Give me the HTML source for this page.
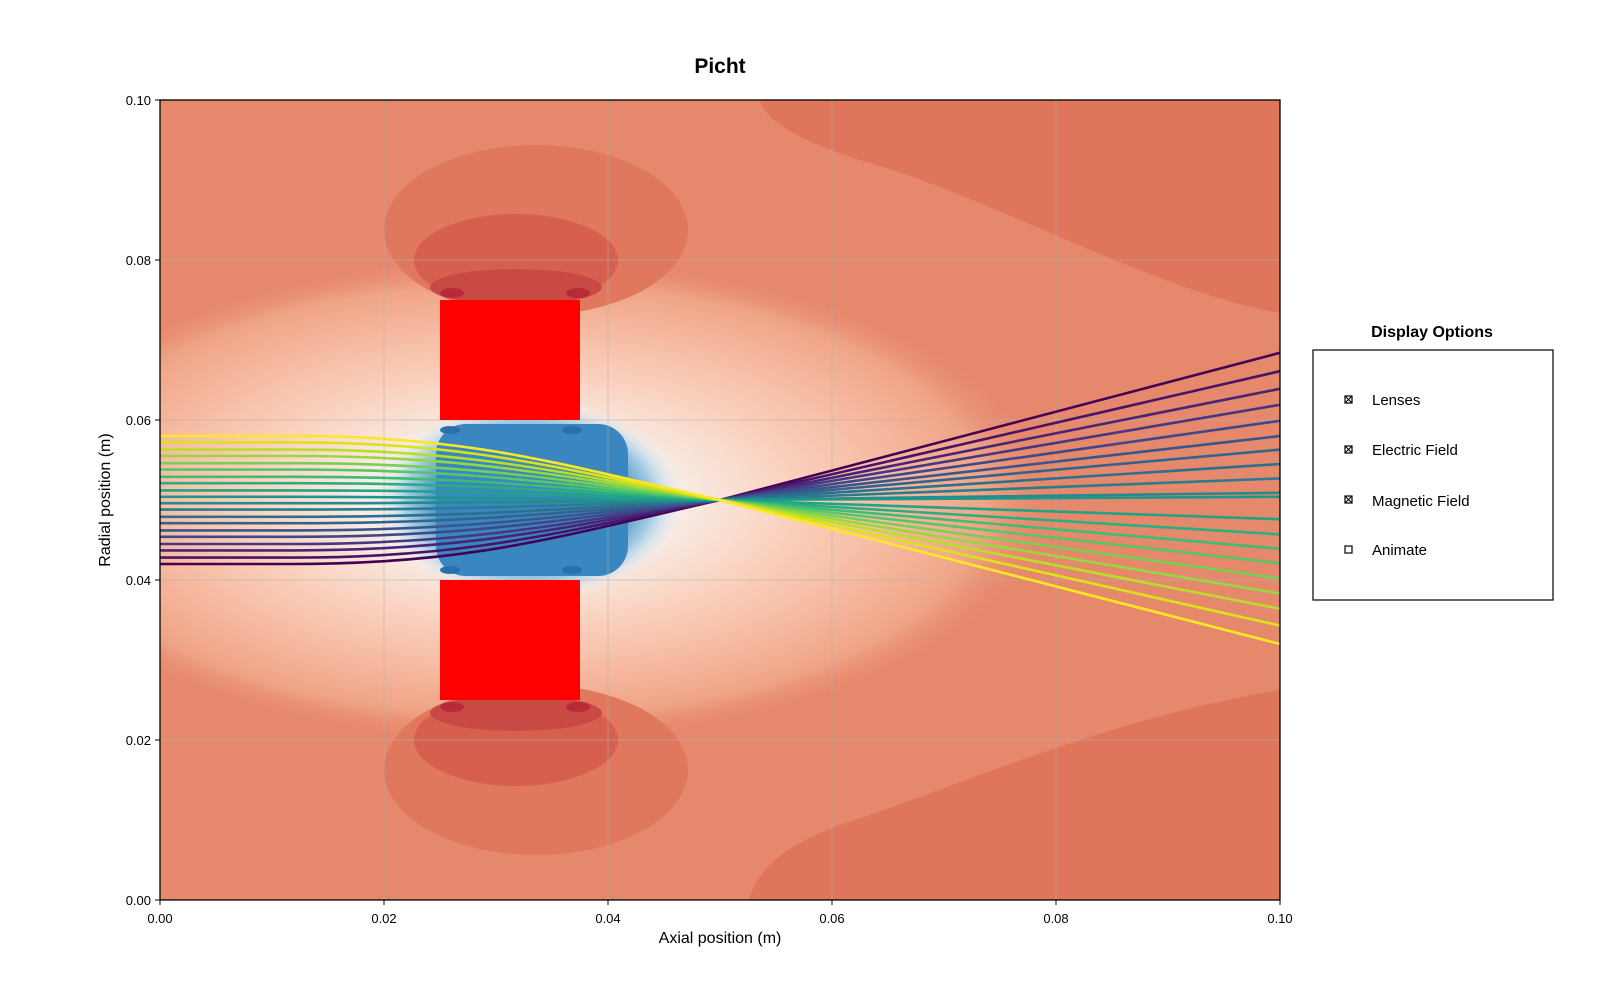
<!DOCTYPE html>
<html><head><meta charset="utf-8"><style>
body{margin:0;background:#fff;}
svg text{font-family:"Liberation Sans","DejaVu Sans",sans-serif;}
</style></head><body>
<svg id="chart" width="1600" height="1000" viewBox="0 0 1600 1000" xmlns="http://www.w3.org/2000/svg">
<defs>
<clipPath id="pc"><rect x="160" y="100" width="1120" height="800"/></clipPath>
<radialGradient id="light" cx="0.5" cy="0.5" r="0.5">
<stop offset="0" stop-color="#fbfbfb"/>
<stop offset="0.3" stop-color="#f8ece5"/>
<stop offset="0.5" stop-color="#fad3c0"/>
<stop offset="0.7" stop-color="#f6bba2"/>
<stop offset="0.88" stop-color="#f0a486"/>
<stop offset="1" stop-color="#e88c70" stop-opacity="0"/>
</radialGradient>
<radialGradient id="blue" cx="0.5" cy="0.5" r="0.5">
<stop offset="0" stop-color="#3a86c1"/>
<stop offset="0.6" stop-color="#4792c7"/>
<stop offset="0.8" stop-color="#a6cde4"/>
<stop offset="1" stop-color="#eef4f8" stop-opacity="0"/>
</radialGradient>
</defs>
<text x="720" y="73" font-size="21" font-weight="bold" text-anchor="middle">Picht</text>
<g clip-path="url(#pc)">
<rect x="160" y="100" width="1120" height="800" fill="#e6886c"/>
<path d="M759,100 L1280,100 L1280,313 C1150,290 1000,200 860,160 C800,140 770,125 759,100 Z" fill="#df765b"/>
<path d="M749,900 C760,860 800,840 840,825 C950,790 1100,720 1280,690 L1280,900 Z" fill="#df765b"/>
<ellipse cx="520" cy="500" rx="530" ry="245" fill="url(#light)"/>
<ellipse cx="536" cy="230" rx="152" ry="85" fill="#df785c"/>
<ellipse cx="516" cy="260" rx="102" ry="46" fill="#d6604d"/>
<ellipse cx="516" cy="287" rx="86" ry="18" fill="#c94a44"/>
<ellipse cx="452" cy="293" rx="12" ry="5" fill="#b82a38"/>
<ellipse cx="578" cy="293" rx="12" ry="5" fill="#b82a38"/>
<ellipse cx="536" cy="770" rx="152" ry="85" fill="#df785c"/>
<ellipse cx="516" cy="740" rx="102" ry="46" fill="#d6604d"/>
<ellipse cx="516" cy="713" rx="86" ry="18" fill="#c94a44"/>
<ellipse cx="452" cy="707" rx="12" ry="5" fill="#b82a38"/>
<ellipse cx="578" cy="707" rx="12" ry="5" fill="#b82a38"/>
<ellipse cx="530" cy="500" rx="155" ry="100" fill="url(#blue)"/>
<rect x="436" y="424" width="192" height="152" rx="30" fill="#3a86c1"/>
<ellipse cx="450" cy="430" rx="10" ry="4" fill="#2a6fad"/>
<ellipse cx="572" cy="430" rx="10" ry="4" fill="#2a6fad"/>
<ellipse cx="450" cy="570" rx="10" ry="4" fill="#2a6fad"/>
<ellipse cx="572" cy="570" rx="10" ry="4" fill="#2a6fad"/>
</g>
<g id="grid"></g>
<rect x="440" y="300" width="140" height="120" fill="#ff0000"/>
<rect x="440" y="580" width="140" height="120" fill="#ff0000"/>
<g id="rays" clip-path="url(#pc)"></g>
<rect x="160" y="100" width="1120" height="800" fill="none" stroke="#000" stroke-width="1.3"/>
<g id="axes"></g>
<text x="720" y="943" font-size="16" text-anchor="middle">Axial position (m)</text>
<text transform="translate(110,500) rotate(-90)" font-size="16" text-anchor="middle">Radial position (m)</text>
<text x="1432" y="337" font-size="16" font-weight="bold" text-anchor="middle">Display Options</text>
<rect x="1313" y="350" width="240" height="250" fill="#fff" stroke="#000" stroke-width="1.2"/>
<g><rect x="1345" y="396" width="7" height="7" fill="#fff" stroke="#000" stroke-width="1.2"/><path d="M1345,396 L1352,403 M1352,396 L1345,403" stroke="#000"/><text x="1372" y="405" font-size="15">Lenses</text></g>
<g><rect x="1345" y="446" width="7" height="7" fill="#fff" stroke="#000" stroke-width="1.2"/><path d="M1345,446 L1352,453 M1352,446 L1345,453" stroke="#000"/><text x="1372" y="455" font-size="15">Electric Field</text></g>
<g><rect x="1345" y="496" width="7" height="7" fill="#fff" stroke="#000" stroke-width="1.2"/><path d="M1345,496 L1352,503 M1352,496 L1345,503" stroke="#000"/><text x="1372" y="506" font-size="15">Magnetic Field</text></g>
<g><rect x="1345" y="546" width="7" height="7" fill="#fff" stroke="#000" stroke-width="1.2"/><text x="1372" y="555" font-size="15">Animate</text></g>
</svg>
<script>
const xTicks=[0,0.02,0.04,0.06,0.08,0.10];
const yTicks=[0,0.02,0.04,0.06,0.08,0.10];
const tickLabels=["0.00","0.02","0.04","0.06","0.08","0.10"];
const rayStart=[0.0420,0.0428,0.0437,0.0445,0.0454,0.0462,0.0471,0.0479,0.0488,0.0496,0.0504,0.0512,0.0521,0.0529,0.0538,0.0546,0.0555,0.0563,0.0572,0.0580];
const rayEnd=[0.0684,0.0661,0.0639,0.0619,0.0599,0.0580,0.0563,0.0545,0.0527,0.0509,0.0504,0.0476,0.0457,0.0439,0.0421,0.0402,0.0383,0.0364,0.0343,0.0320];
const focus=[0.05,0.05];
const viridis=["#440154","#481467","#482576","#453781","#3f4889","#39568c","#33638d","#2d708e","#287d8e","#238a8d","#1f968b","#20a386","#29af7f","#3dbc74","#56c667","#75d054","#95d840","#b8de29","#dae319","#fde725"];
const NS="http://www.w3.org/2000/svg";
const X=v=>160+v*11200, Y=v=>900-v*8000;
const grid=document.getElementById('grid'), axes=document.getElementById('axes'), rays=document.getElementById('rays');
function mk(tag,attrs,parent){const e=document.createElementNS(NS,tag);for(const k in attrs)e.setAttribute(k,attrs[k]);parent.appendChild(e);return e;}
xTicks.forEach((t,i)=>{
 const g=mk('line',{x1:X(t),x2:X(t),y1:100,y2:900,stroke:'#b0b0b0','stroke-opacity':0.55,'stroke-width':1},grid);
 
 
 mk('line',{x1:X(t),x2:X(t),y1:900,y2:905,stroke:'#000'},axes);
 const tx=mk('text',{x:X(t),y:923,'font-size':13,'text-anchor':'middle'},axes);
 tx.textContent=tickLabels[i];
 
 
});
yTicks.forEach((t,i)=>{
 const g=mk('line',{x1:160,x2:1280,y1:Y(t),y2:Y(t),stroke:'#b0b0b0','stroke-opacity':0.55,'stroke-width':1},grid);
 
 
 mk('line',{x1:155,x2:160,y1:Y(t),y2:Y(t),stroke:'#000'},axes);
 const tx=mk('text',{x:151,y:Y(t)+5,'font-size':13,'text-anchor':'end'},axes);
 tx.textContent=tickLabels[i];
 
 
});
rayStart.forEach((y0,i)=>{
 const ye=rayEnd[i];
 const s=(ye-focus[1])/(0.1-focus[0]);
 const d=`M${X(0)},${Y(y0)} L${X(0.012)},${Y(y0)} C${X(0.028)},${Y(y0)} ${X(0.036)},${Y(focus[1]-s*0.012)} ${X(focus[0])},${Y(focus[1])} L${X(0.1)},${Y(ye)}`;
 const p=mk('path',{d:d,fill:'none',stroke:viridis[i],'stroke-width':2.6},rays);
 
 
});
</script>
</body></html>
